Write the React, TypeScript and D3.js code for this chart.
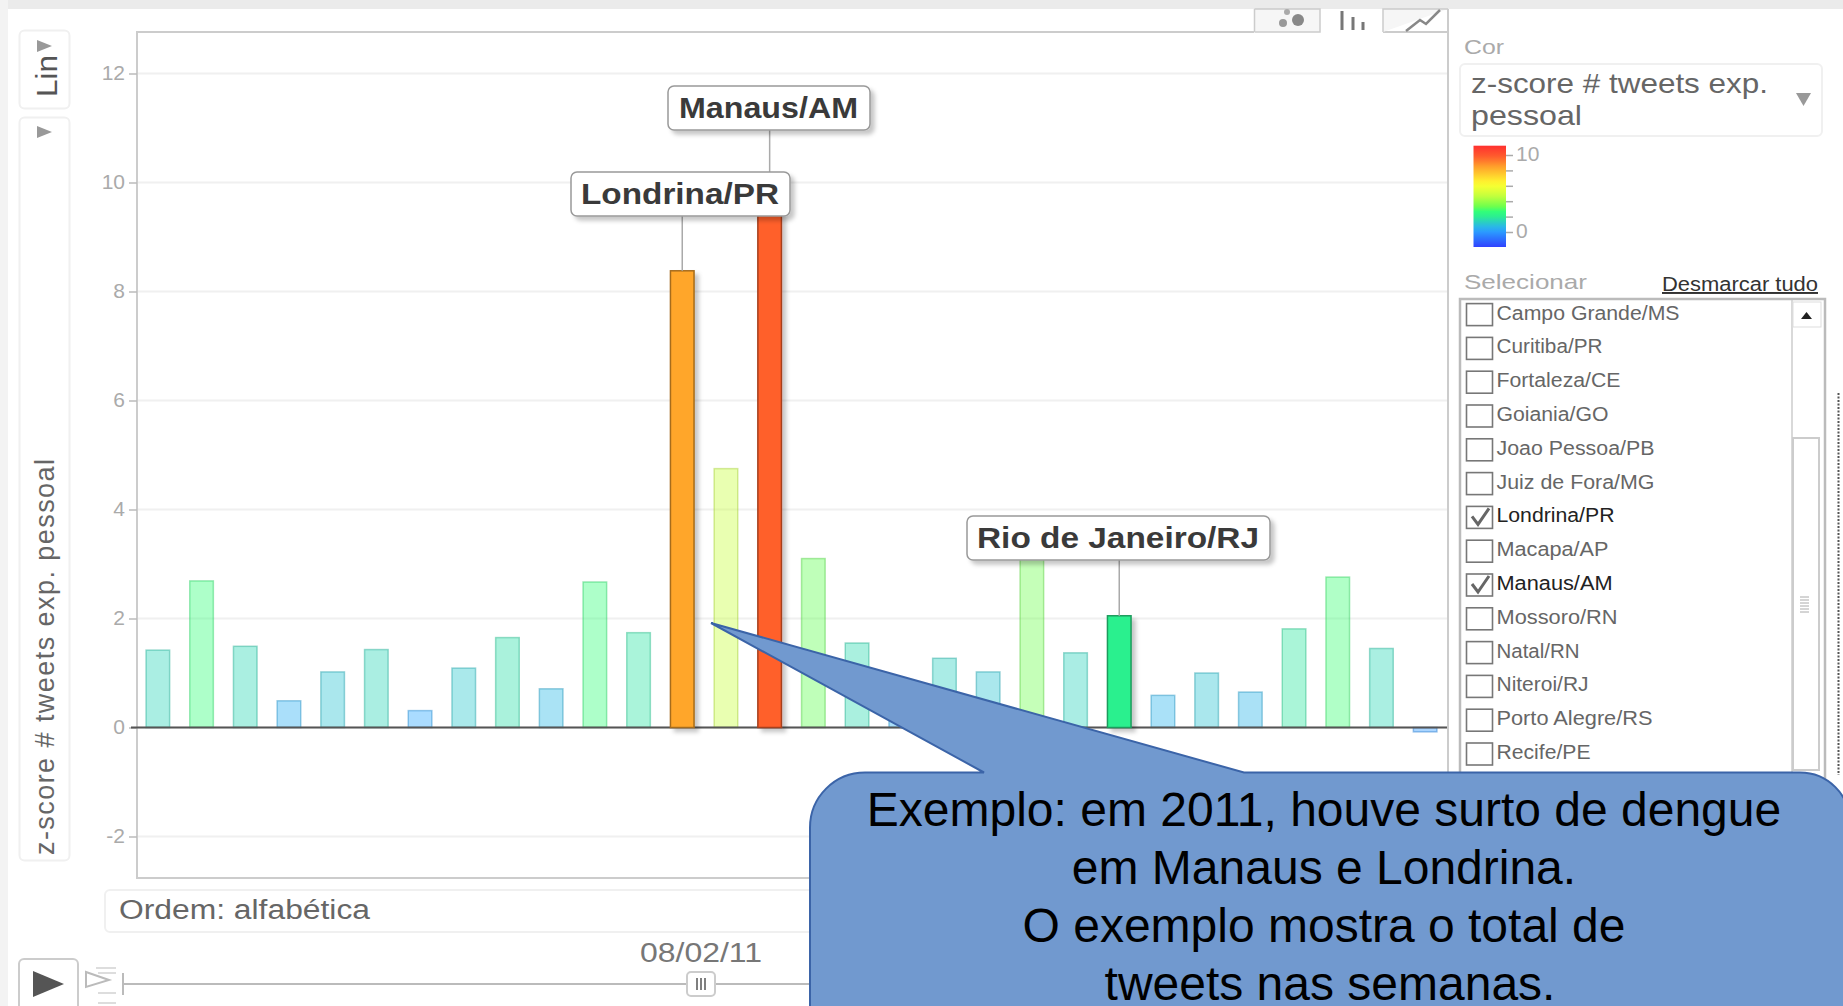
import { useEffect, useRef } from "react";
import * as d3 from "d3";

// z-score per city, alphabetical order (names only known for the ones in the list box)
const barValues = [
  1.42, 2.69, 1.49, 0.49, 1.02, 1.43, 0.31, 1.09, 1.65, 0.71, 2.67, 1.74, 8.38, 4.75, 9.7,
  3.1, 1.55, 0.5, 1.27, 1.02, 3.3, 1.37, 2.05, 0.59, 1.0, 0.65, 1.81, 2.76, 1.45, -0.08,
];
const yTicks = [-2, 0, 2, 4, 6, 8, 10, 12];
const legendTicks = [0, 2, 4, 6, 8, 10];
const highlighted = [
  { index: 12, label: "Londrina/PR" },
  { index: 14, label: "Manaus/AM" },
  { index: 22, label: "Rio de Janeiro/RJ" },
];
const listCities = [
  "Campo Grande/MS", "Curitiba/PR", "Fortaleza/CE", "Goiania/GO", "Joao Pessoa/PB", "Juiz de Fora/MG",
  "Londrina/PR", "Macapa/AP", "Manaus/AM", "Mossoro/RN", "Natal/RN", "Niteroi/RJ", "Porto Alegre/RS", "Recife/PE",
];
const listTextWidths = [183, 106, 124, 112, 158, 158, 118, 112, 116, 121, 83, 92, 156, 94];
const checkedCities = ["Londrina/PR", "Manaus/AM"];
const calloutLines = [
  "Exemplo: em 2011, houve surto de dengue",
  "em Manaus e Londrina.",
  "O exemplo mostra o total de",
  "tweets nas semanas.",
];

const colorStops = [-2, 0.3, 1.4, 2.05, 2.7, 3.1, 4.75, 6.2, 8.38, 9.7, 11.2];
const colorRange = ["#3040ff", "#2aa7ff", "#2ad4b9", "#2cf08e", "#32ff78", "#60ff50", "#c8ff3c", "#ffff30", "#ffa62b", "#ff602c", "#ff3030"];

const color = d3.scaleLinear<string>().domain(colorStops).range(colorRange);
const x = d3.scaleBand<number>().domain(d3.range(barValues.length)).range([136, 1447]).paddingInner(0.46).paddingOuter(0.23);
const y = d3.scaleLinear().domain([0, 12]).range([727.5, 73.5]);
const legendY = d3.scaleLinear().domain([0, 10]).range([232, 155]);
const rowY = d3.scaleLinear().domain([0, 1]).range([314.6, 348.4]);

const sans = "Liberation Sans, Arial, sans-serif";

const labelBoxes: Record<string, { x0: number; x1: number; y0: number; tx: number; tw: number }> = {
  "Londrina/PR": { x0: 571, x1: 790, y0: 172, tx: 581, tw: 198 },
  "Manaus/AM": { x0: 668, x1: 870, y0: 86, tx: 679, tw: 179 },
  "Rio de Janeiro/RJ": { x0: 967, x1: 1270, y0: 516, tx: 977, tw: 282 },
};

const App = () => {
  const gy = useRef<SVGGElement>(null);
  const gLegend = useRef<SVGGElement>(null);

  useEffect(() => {
    const axis = d3.axisLeft(y).tickValues(yTicks).tickSize(8).tickPadding(4).tickFormat((d) => String(d));
    const g = d3.select(gy.current!).call(axis as any);
    g.select(".domain").remove();
    g.selectAll("line").attr("stroke", "#bbb").attr("stroke-width", 1.5);
    g.selectAll("text").attr("fill", "#aaa").attr("font-size", 21).attr("font-family", sans).attr("dy", "0.27em");
  }, []);

  useEffect(() => {
    const axis = d3.axisRight(legendY).tickValues(legendTicks).tickSize(7).tickPadding(3)
      .tickFormat((d) => (d === 0 || d === 10 ? String(d) : ""));
    const g = d3.select(gLegend.current!).call(axis as any);
    g.select(".domain").remove();
    g.selectAll("line").attr("stroke", "#aaa").attr("stroke-width", 1.5);
    g.selectAll("text").attr("fill", "#aaa").attr("font-size", 21).attr("font-family", sans).attr("dy", "0.27em");
  }, []);

  const callout = d3.path();
  const cx0 = 810, cy0 = 772.5, cr = 55;
  callout.moveTo(cx0 + cr, cy0);
  callout.lineTo(984, cy0);
  callout.lineTo(711, 623);
  callout.lineTo(1244, cy0);
  callout.lineTo(1800, cy0);
  callout.arcTo(1850, cy0, 1850, cy0 + 50, 50);
  callout.lineTo(1850, 1100);
  callout.lineTo(cx0, 1100);
  callout.lineTo(cx0, cy0 + cr);
  callout.arcTo(cx0, cy0, cx0 + cr, cy0, cr);
  callout.closePath();

  const gradStops = d3.range(0, 1.0001, 0.05);
  const legendDomain = [legendY.invert(145.7), legendY.invert(247)];

  return (
    <svg width={1843} height={1006} style={{ position: "fixed", left: 0, top: 0, background: "#fff" }} fontFamily={sans}>
      <defs>
        <linearGradient id="legendGrad" x1="0" x2="0" y1="0" y2="1">
          {gradStops.map((t) => (
            <stop key={t} offset={t} stopColor={color(legendDomain[0] + (legendDomain[1] - legendDomain[0]) * t)} />
          ))}
        </linearGradient>
        <filter id="soft" x="-30%" y="-30%" width="170%" height="170%">
          <feDropShadow dx="4" dy="4" stdDeviation="2" floodColor="#000" floodOpacity="0.22" />
        </filter>
      </defs>

      {/* page edges */}
      <rect x={0} y={0} width={1843} height={9} fill="#ebebeb" />
      <rect x={0} y={0} width={8} height={1006} fill="#f3f3f3" />

      {/* left controls */}
      <rect x={19.5} y={30.5} width={50} height={78} rx={5} fill="#fff" stroke="#f0f0f0" strokeWidth={2} />
      <rect x={19.5} y={117.5} width={50} height={743} rx={5} fill="#fff" stroke="#f0f0f0" strokeWidth={2} />
      <path d="M37,40 L52,46 L37,52 Z" fill="#999" />
      <path d="M37,126 L52,132 L37,138 Z" fill="#999" />
      <text transform="translate(57,97) rotate(-90)" fontSize={29} fill="#555" textLength={42} lengthAdjust="spacingAndGlyphs">Lin</text>
      <text transform="translate(54,855) rotate(-90)" fontSize={27} fill="#666" textLength={396} lengthAdjust="spacing">z-score # tweets exp. pessoal</text>

      {/* plot frame */}
      <path d="M1254,32 H137 V878 H1448 V9" fill="none" stroke="#ccc" strokeWidth={2} />
      <path d="M1383,32 H1448" stroke="#ccc" strokeWidth={2} />
      <path d="M1254.5,32 V9 M1254.5,9 H1320 V32 H1254.5 M1383,32 V9 H1448" fill="#f6f6f6" stroke="#ccc" strokeWidth={1.5} />
      <circle cx={1287} cy={12} r={3} fill="#aaa" />
      <circle cx={1283} cy={23} r={4} fill="#999" />
      <circle cx={1298} cy={20} r={6} fill="#888" />
      <path d="M1342,30 V11 M1353,30 V17 M1363,30 V22" stroke="#777" strokeWidth={3} />
      <path d="M1406,31 L1420,20 L1426,24 L1440,10" fill="none" stroke="#888" strokeWidth={2.5} />

      {/* grid + y axis */}
      {yTicks.map((t) => (
        <line key={t} x1={138} x2={1447} y1={y(t)} y2={y(t)} stroke="#f0f0f0" strokeWidth={2} />
      ))}
      <g ref={gy} transform="translate(137,0)" />

      {/* bars */}
      {barValues.map((v, i) => {
        if (highlighted.some((h) => h.index === i)) return null;
        return (
          <rect key={i} x={x(i)} width={x.bandwidth()} y={y(Math.max(v, 0))} height={Math.abs(y(v) - y(0))}
            fill={color(v)} fillOpacity={0.4} stroke={d3.color(color(v))!.darker(0.6).formatHex()} strokeOpacity={0.45} strokeWidth={1.5} />
        );
      })}
      <line x1={131} x2={1447} y1={y(0)} y2={y(0)} stroke="#555" strokeWidth={2} />
      {highlighted.map((h) => (
        <rect key={h.index} x={x(h.index)} width={x.bandwidth()} y={y(barValues[h.index])}
          height={y(0) - y(barValues[h.index])} fill={color(barValues[h.index])}
          stroke={d3.color(color(barValues[h.index]))!.darker(1.2).formatHex()} strokeWidth={1.5} filter="url(#soft)" />
      ))}

      {/* leader lines + labels */}
      {highlighted.map((h) => (
        <line key={h.index} x1={x(h.index)! + x.bandwidth() / 2} x2={x(h.index)! + x.bandwidth() / 2}
          y1={labelBoxes[h.label].y0 + 44} y2={y(barValues[h.index])} stroke="#aaa" strokeWidth={1.5} />
      ))}
      {[highlighted[1], highlighted[0], highlighted[2]].map((h) => {
        const b = labelBoxes[h.label];
        return (
          <g key={h.label}>
            <rect x={b.x0} y={b.y0} width={b.x1 - b.x0} height={44} rx={6} fill="#fff" stroke="#999" strokeWidth={1.5} filter="url(#soft)" />
            <text x={b.tx} y={b.y0 + 32} fontSize={29} fontWeight="bold" fill="#3a3a3a" textLength={b.tw} lengthAdjust="spacingAndGlyphs">{h.label}</text>
          </g>
        );
      })}

      {/* colour panel */}
      <text x={1464} y={54} fontSize={21} fill="#aaa" textLength={40} lengthAdjust="spacingAndGlyphs">Cor</text>
      <rect x={1460} y={64} width={362} height={72} rx={5} fill="#fff" stroke="#f0f0f0" strokeWidth={2} />
      <text x={1471} y={93} fontSize={28} fill="#666" textLength={297} lengthAdjust="spacingAndGlyphs">z-score # tweets exp.</text>
      <text x={1471} y={125} fontSize={28} fill="#666" textLength={111} lengthAdjust="spacingAndGlyphs">pessoal</text>
      <path d="M1796,93 H1811 L1803.5,106 Z" fill="#999" />
      <rect x={1473.5} y={145.7} width={32.5} height={101.3} fill="url(#legendGrad)" />
      <g ref={gLegend} transform="translate(1506,0)" />

      {/* select list */}
      <text x={1464} y={289} fontSize={21} fill="#aaa" textLength={123} lengthAdjust="spacingAndGlyphs">Selecionar</text>
      <text x={1662} y={291} fontSize={19.5} fill="#333" textDecoration="underline" textLength={156} lengthAdjust="spacingAndGlyphs">Desmarcar tudo</text>
      <rect x={1460} y={299} width={365} height={500} fill="#fff" stroke="#bbb" strokeWidth={2.5} />
      <line x1={1792} x2={1792} y1={300} y2={775} stroke="#ccc" strokeWidth={1.5} />
      <rect x={1793} y={302} width={28} height={25} fill="#fff" stroke="#ddd" />
      <path d="M1801,319 L1806.5,312 L1812,319 Z" fill="#222" />
      <rect x={1793} y={438} width={26} height={332} fill="#fff" stroke="#ccc" strokeWidth={2} />
      {d3.range(6).map((i) => (
        <line key={i} x1={1800} x2={1809} y1={597 + i * 3} y2={597 + i * 3} stroke="#aaa" />
      ))}
      {listCities.map((c, i) => {
        const cy = rowY(i);
        const on = checkedCities.includes(c);
        return (
          <g key={c}>
            <rect x={1466.5} y={cy - 11} width={26} height={22} fill="#fff" stroke="#777" strokeWidth={1.6} />
            {on && <path d={`M${1472},${cy - 1} L${1478},${cy + 7} L${1489},${cy - 9}`} fill="none" stroke="#666" strokeWidth={3} />}
            <text x={1496.5} y={cy + 5} fontSize={20} fill={on ? "#222" : "#666"} textLength={listTextWidths[i]} lengthAdjust="spacingAndGlyphs">{c}</text>
          </g>
        );
      })}

      {/* right dotted edge */}
      <line x1={1838.5} x2={1838.5} y1={393} y2={775} stroke="#555" strokeWidth={2} strokeDasharray="2 1.5" />

      {/* order + time slider */}
      <rect x={105} y={890} width={760} height={42} rx={5} fill="#fff" stroke="#f0f0f0" strokeWidth={2} />
      <text x={119} y={919} fontSize={27} fill="#666" textLength={251} lengthAdjust="spacingAndGlyphs">Ordem: alfabética</text>
      <text x={640} y={962} fontSize={27} fill="#777" textLength={122} lengthAdjust="spacingAndGlyphs">08/02/11</text>
      <line x1={123} x2={860} y1={984} y2={984} stroke="#bbb" strokeWidth={2} />
      <line x1={123} x2={123} y1={973} y2={995} stroke="#bbb" strokeWidth={2} />
      <rect x={687} y={972} width={28} height={24} rx={4} fill="#fff" stroke="#ccc" strokeWidth={2} />
      <path d="M697,978 V990 M701,978 V990 M705,978 V990" stroke="#555" strokeWidth={1.5} />
      <rect x={19} y={959} width={59} height={60} rx={5} fill="#fff" stroke="#ccc" strokeWidth={2} />
      <path d="M33,971 L64,984 L33,997 Z" fill="#555" />
      <path d="M86,972 L109,980 L86,987 Z" fill="none" stroke="#bbb" strokeWidth={2} />
      <path d="M96,968 H116 M98,973 H116 M98,993 H116 M98,1003 H116" stroke="#ddd" strokeWidth={2} />

      {/* callout */}
      <path d={callout.toString()} fill="#7199cf" stroke="#3b64a8" strokeWidth={2} />
      <g textAnchor="middle" fontSize={48} fill="#000">
        {calloutLines.map((l, i) => (
          <text key={i} x={i === 3 ? 1330 : 1324} y={826 + i * 58}>{l}</text>
        ))}
      </g>
    </svg>
  );
};

export default App;
